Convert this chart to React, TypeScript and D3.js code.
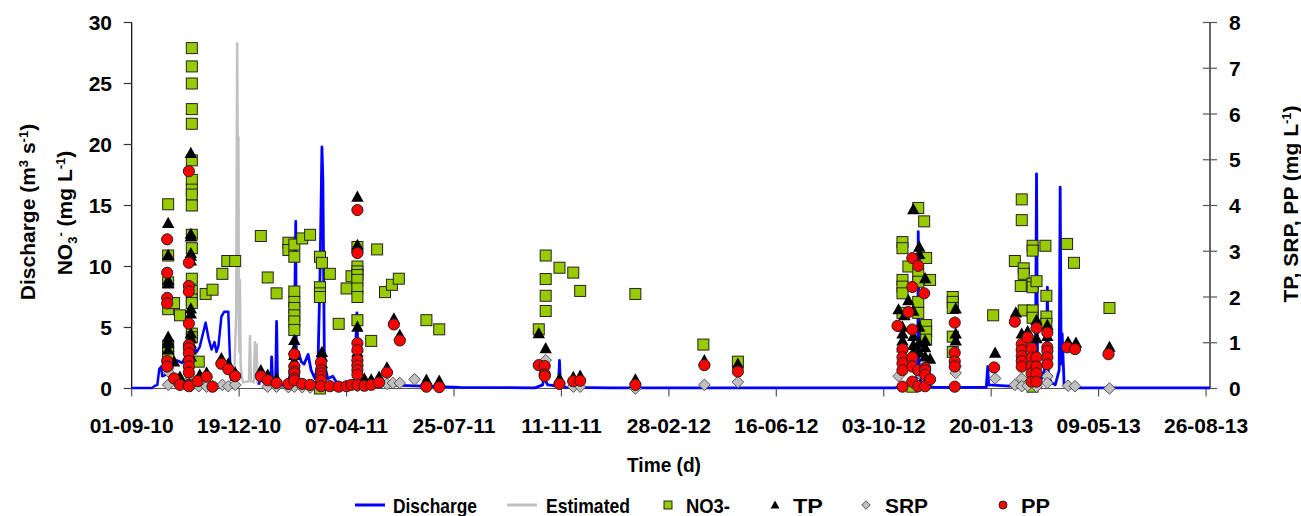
import React from "react";
import * as d3 from "d3";

// ---------- DATA ----------
// Discharge (m3 s-1), measured
const dischargeSeries: [string, number][] = [
  ["2010-09-01", 0.05], ["2010-09-22", 0.05], ["2010-09-24", 0.2], ["2010-09-27", 0.3], ["2010-09-29", 1.6],
  ["2010-10-01", 1.8], ["2010-10-02", 1.0], ["2010-10-05", 1.1], ["2010-10-09", 1.8], ["2010-10-14", 2.2],
  ["2010-10-17", 2.3], ["2010-10-22", 2.1], ["2010-10-25", 2.5], ["2010-10-28", 4.5], ["2010-10-31", 5.5],
  ["2010-11-02", 3.5], ["2010-11-06", 3.0], ["2010-11-09", 3.4], ["2010-11-12", 4.4], ["2010-11-15", 5.4],
  ["2010-11-18", 4.1], ["2010-11-21", 3.2], ["2010-11-24", 3.8], ["2010-11-26", 3.0], ["2010-11-28", 3.5],
  ["2010-12-01", 5.9], ["2010-12-04", 6.3], ["2010-12-08", 6.3], ["2010-12-09", 4.0], ["2010-12-10", 1.8],
  ["2010-12-11", 0.6],
];
const dischargeSeries2: [string, number][] = [
  ["2011-01-08", 0.3], ["2011-01-11", 1.5], ["2011-01-12", 0.6], ["2011-01-16", 0.3], ["2011-01-20", 0.3],
  ["2011-01-21", 2.6], ["2011-01-22", 0.5], ["2011-01-25", 0.4], ["2011-01-26", 5.5], ["2011-01-27", 0.3],
  ["2011-02-05", 0.3], ["2011-02-11", 1.5], ["2011-02-13", 4.0], ["2011-02-14T10:00Z", 13.7], ["2011-02-15", 3.0],
  ["2011-02-17", 3.0], ["2011-02-20", 2.2], ["2011-02-23", 2.0], ["2011-02-27", 2.8], ["2011-03-02", 1.5],
  ["2011-03-06", 0.8], ["2011-03-09", 2.0], ["2011-03-11", 9.0], ["2011-03-13", 19.8], ["2011-03-14", 17.0],
  ["2011-03-15T12:00Z", 2.0], ["2011-03-19", 0.8], ["2011-03-24", 1.0], ["2011-03-28", 0.5], ["2011-04-07", 0.3],
  ["2011-04-15", 0.5], ["2011-04-17T12:00Z", 6.2], ["2011-04-19", 1.0], ["2011-04-25", 0.4], ["2011-05-31", 0.25],
  ["2011-07-31", 0.1], ["2011-10-15", 0.05], ["2011-10-23", 0.3], ["2011-10-25", 1.5], ["2011-10-26", 0.6],
  ["2011-10-28", 0.3], ["2011-11-08", 0.2], ["2011-11-09", 2.3], ["2011-11-10", 0.3], ["2011-11-15", 0.1],
  ["2012-01-01", 0.05], ["2012-10-14", 0.05], ["2012-11-04", 0.4], ["2012-11-06T12:00Z", 1.5], ["2012-11-07", 12.85],
  ["2012-11-08", 1.0], ["2012-11-11", 0.3], ["2012-11-23", 0.1], ["2013-01-15", 0.1], ["2013-01-16T12:00Z", 1.8],
  ["2013-01-17T12:00Z", 0.3], ["2013-02-28", 0.1], ["2013-03-06", 3.0], ["2013-03-07", 17.6], ["2013-03-08", 2.0],
  ["2013-03-12", 0.8], ["2013-03-17", 2.0], ["2013-03-18", 8.3], ["2013-03-19", 1.0], ["2013-03-22", 0.5],
  ["2013-03-26", 0.3], ["2013-03-30", 1.5], ["2013-03-31", 16.5], ["2013-04-01", 2.0], ["2013-04-02", 4.5],
  ["2013-04-04", 0.3], ["2013-04-09", 0.05], ["2013-08-30", 0.05],
];
// Estimated discharge (gap filling)
const estimatedSeries: [string, number][] = [
  ["2010-12-11", 0.6], ["2010-12-14", 1.0], ["2010-12-16", 6.0], ["2010-12-17", 28.3], ["2010-12-17T18:00Z", 14.0],
  ["2010-12-18T06:00Z", 20.6], ["2010-12-18T18:00Z", 5.0], ["2010-12-19T06:00Z", 3.0], ["2010-12-19T18:00Z", 8.9],
  ["2010-12-20T12:00Z", 2.0], ["2010-12-21T12:00Z", 1.0], ["2010-12-23", 0.5], ["2010-12-29", 0.6], ["2010-12-30", 4.3],
  ["2010-12-31", 0.6], ["2011-01-03", 0.5], ["2011-01-04", 3.8], ["2011-01-05", 0.8], ["2011-01-05T18:00Z", 3.6],
  ["2011-01-06T12:00Z", 0.5], ["2011-01-08", 0.3],
];

// NO3- (mg L-1), left axis
const no3Samples: [string, number[]][] = [
  ["2010-10-08", [15.1, 10.9, 8.7, 6.5, 3.5, 3.0, 2.6]], ["2010-10-14", [7.0]], ["2010-10-20", [6.0]],
  ["2010-11-01", [27.9, 26.4, 25.0, 22.9, 21.7, 18.7, 17.1, 16.3, 15.9, 15.0, 12.6, 11.5, 9.0, 8.0, 7.3, 7.0, 4.5, 4.2]],
  ["2010-11-08", [2.2]], ["2010-11-15", [7.75]], ["2010-11-22", [8.1]], ["2010-12-02", [9.4]], ["2010-12-07", [10.45]],
  ["2010-12-15", [10.45]], ["2011-01-10", [12.5]], ["2011-01-17", [9.1]], ["2011-01-26", [7.8]],
  ["2011-02-07", [11.95, 11.35]], ["2011-02-13", [11.8, 10.8, 7.95, 7.1, 6.6, 6.0, 5.5, 4.8]],
  ["2011-02-21", [12.3]], ["2011-03-01", [12.6]], ["2011-03-11", [10.8, 8.3, 7.8, 7.5, 0.0]], ["2011-03-13", [10.3]],
  ["2011-03-21", [9.4]], ["2011-03-30", [5.3]], ["2011-04-07", [8.2]], ["2011-04-12", [9.2]],
  ["2011-04-18", [11.6, 10.0, 9.6, 9.3, 8.9, 8.2, 7.5, 5.6]], ["2011-05-02", [3.9]], ["2011-05-08", [11.4]],
  ["2011-05-16", [7.9]], ["2011-05-23", [8.5]], ["2011-05-30", [9.0]], ["2011-06-27", [5.6]], ["2011-07-10", [4.85]],
  ["2011-10-19", [4.85]], ["2011-10-26", [10.9, 8.97, 7.6, 6.35]], ["2011-11-09", [9.9]], ["2011-11-23", [9.5]],
  ["2011-11-30", [8.0]], ["2012-01-25", [7.75]], ["2012-04-03", [3.6]], ["2012-05-08", [2.2]],
  ["2012-10-22", [12.0, 11.5, 8.9, 8.35, 7.8, 6.2]], ["2012-10-28", [10.0]], ["2012-11-01", [0.15]],
  ["2012-11-07", [14.8, 9.4, 8.75, 7.1, 6.2]], ["2012-11-13", [13.7]], ["2012-11-15", [10.7, 5.2, 4.65, 4.0]],
  ["2012-11-19", [8.9]], ["2012-12-12", [7.5, 7.1, 6.6, 4.25, 3.0]], ["2013-01-22", [6.0]],
  ["2013-02-13", [10.45]], ["2013-02-19", [8.4]], ["2013-02-20", [15.5, 13.8]], ["2013-02-22", [9.85, 9.4, 6.4]],
  ["2013-03-03", [11.7, 11.3, 8.6, 8.3, 6.4, 5.8, 0.15]], ["2013-03-07", [8.8]], ["2013-03-16", [11.7]],
  ["2013-03-17", [7.6, 5.9, 5.3]], ["2013-04-07", [11.85]], ["2013-04-14", [10.3]], ["2013-05-20", [6.6]],
];

// TP (mg L-1), right axis
const tpSamples: [string, number[]][] = [
  ["2010-10-08", [3.62, 2.92, 2.37, 2.3, 1.13, 1.05, 0.99, 0.85, 0.59]], ["2010-10-14", [0.59]], ["2010-10-20", [0.26]],
  ["2010-10-31", [5.15, 3.38, 3.32, 2.96, 2.9, 2.8, 1.75, 1.64, 1.21, 1.1, 0.99, 0.85, 0.7]],
  ["2010-11-09", [0.3]], ["2010-11-16", [0.35]], ["2010-12-01", [0.66]], ["2010-12-08", [0.55]], ["2010-12-15", [0.35]],
  ["2011-01-10", [0.4]], ["2011-01-17", [0.3]], ["2011-01-26", [0.22]], ["2011-02-13", [1.06, 0.85, 0.73, 0.6, 0.5]],
  ["2011-03-13", [0.8, 0.7, 0.55]], ["2011-04-18", [4.19, 3.14, 1.35, 0.9, 0.8, 0.7, 0.62]],
  ["2011-04-25", [0.22]], ["2011-05-02", [0.2]], ["2011-05-10", [0.26]], ["2011-05-18", [0.46]], ["2011-05-25", [1.53]],
  ["2011-05-31", [1.17]], ["2011-06-27", [0.19]], ["2011-07-10", [0.17]], ["2011-10-19", [1.21]], ["2011-10-26", [0.88]],
  ["2011-11-09", [0.22]], ["2011-11-23", [0.25]], ["2011-11-30", [0.28]], ["2012-01-25", [0.2]], ["2012-04-04", [0.62]],
  ["2012-05-08", [0.54]], ["2012-10-18", [1.73]], ["2012-10-22", [1.35, 1.2, 1.05, 0.9]], ["2012-10-24", [1.6]],
  ["2012-10-28", [1.93]], ["2012-11-02", [3.92, 1.7, 1.15, 0.95, 0.8]], ["2012-11-08", [3.1, 2.94, 1.35, 1.0, 0.8]],
  ["2012-11-14", [2.41, 1.05, 0.9, 0.7]], ["2012-11-19", [0.65]], ["2012-12-15", [1.75, 1.2, 1.05]],
  ["2013-01-24", [0.78]], ["2013-02-14", [1.66]], ["2013-02-20", [1.2, 0.95]], ["2013-02-26", [1.25]],
  ["2013-03-07", [1.5, 1.1]], ["2013-03-18", [1.39, 1.15]], ["2013-04-08", [1.02]], ["2013-04-16", [1.0]],
  ["2013-05-20", [0.91]],
];

// SRP (mg L-1), right axis
const srpSamples: [string, number[]][] = [
  ["2010-10-08", [0.45, 0.37, 0.08]], ["2010-10-31", [0.26, 0.2, 0.12, 0.05]], ["2010-11-08", [0.05]],
  ["2010-11-16", [0.04]], ["2010-11-22", [0.05]], ["2010-12-02", [0.08]], ["2010-12-08", [0.05]], ["2010-12-15", [0.08]],
  ["2011-01-17", [0.04]], ["2011-01-26", [0.04]], ["2011-02-07", [0.03]], ["2011-02-13", [0.04]], ["2011-02-21", [0.03]],
  ["2011-03-01", [0.02]], ["2011-03-13", [0.05]], ["2011-04-18", [0.1, 0.05]], ["2011-05-18", [0.1]],
  ["2011-05-24", [0.12]], ["2011-05-31", [0.12]], ["2011-06-15", [0.2]], ["2011-10-26", [0.62]], ["2011-11-23", [0.04]],
  ["2011-11-30", [0.04]], ["2012-01-25", [0.0]], ["2012-04-04", [0.08]], ["2012-05-08", [0.14]], ["2012-10-18", [0.27]],
  ["2012-11-02", [0.1]], ["2012-11-08", [0.33]], ["2012-12-15", [0.49, 0.34]], ["2013-01-24", [0.22]],
  ["2013-02-13", [0.08]], ["2013-02-20", [0.22, 0.05]], ["2013-02-26", [0.06]], ["2013-03-07", [0.04]],
  ["2013-03-18", [0.27, 0.12]], ["2013-04-08", [0.06]], ["2013-04-15", [0.05]], ["2013-05-20", [0.0]],
];

// PP (mg L-1), right axis
const ppSamples: [string, number[]][] = [
  ["2010-10-07", [3.26, 2.53, 1.98, 1.86, 0.6, 0.48]], ["2010-10-14", [0.22]], ["2010-10-20", [0.08]],
  ["2010-10-29", [4.75, 2.75, 2.24, 2.12, 1.42, 0.95, 0.88, 0.77, 0.6, 0.48, 0.35, 0.08, 0.05]],
  ["2010-11-07", [0.16]], ["2010-11-16", [0.26]], ["2010-11-22", [0.04]], ["2010-12-01", [0.54]], ["2010-12-08", [0.42]],
  ["2010-12-15", [0.27]], ["2011-01-10", [0.27]], ["2011-01-17", [0.18]], ["2011-01-26", [0.12]], ["2011-02-07", [0.1]],
  ["2011-02-13", [0.75, 0.48, 0.37, 0.33, 0.22, 0.18]], ["2011-02-21", [0.1]], ["2011-03-01", [0.08]],
  ["2011-03-12", [0.57, 0.4, 0.33, 0.26, 0.18, 0.05]], ["2011-03-21", [0.05]], ["2011-03-30", [0.04]],
  ["2011-04-07", [0.05]], ["2011-04-12", [0.08]], ["2011-04-18", [3.9, 2.96, 0.99, 0.84, 0.62, 0.5, 0.4, 0.3, 0.08]],
  ["2011-04-25", [0.06]], ["2011-05-02", [0.08]], ["2011-05-10", [0.13]], ["2011-05-18", [0.35]], ["2011-05-25", [1.4]],
  ["2011-05-31", [1.05]], ["2011-06-27", [0.04]], ["2011-07-10", [0.03]], ["2011-10-19", [0.51]],
  ["2011-10-25", [0.49, 0.31, 0.27]], ["2011-11-09", [0.1]], ["2011-11-23", [0.16]], ["2011-11-30", [0.17]],
  ["2012-01-25", [0.08]], ["2012-04-04", [0.51]], ["2012-05-08", [0.37]], ["2012-10-17", [1.37]],
  ["2012-10-22", [0.86, 0.68, 0.55, 0.4, 0.04]], ["2012-10-28", [1.67]], ["2012-11-01", [2.85, 2.22, 1.29, 0.68, 0.48, 0.15]],
  ["2012-11-07", [2.68, 0.4, 0.05]], ["2012-11-13", [2.08]], ["2012-11-14", [0.45, 0.4, 0.3, 0.05]], ["2012-11-19", [0.2]],
  ["2012-12-14", [1.44, 0.78, 0.59, 0.48, 0.04]], ["2013-01-23", [0.46]], ["2013-02-13", [1.46]],
  ["2013-02-20", [0.97, 0.84, 0.71, 0.6, 0.48]], ["2013-02-26", [1.12]], ["2013-03-02", [0.88, 0.68, 0.48, 0.33, 0.15]],
  ["2013-03-07", [1.32, 0.68, 0.48, 0.33, 0.15]], ["2013-03-18", [1.22, 0.9, 0.82, 0.68, 0.53]], ["2013-04-07", [0.9]],
  ["2013-04-15", [0.86]], ["2013-05-19", [0.75]],
];

const xTickDates = ["2010-09-01", "2010-12-19", "2011-04-07", "2011-07-25", "2011-11-11", "2012-02-28",
  "2012-06-16", "2012-10-03", "2013-01-20", "2013-05-09", "2013-08-26"];
const leftTicks = [0, 5, 10, 15, 20, 25, 30];
const rightTicks = [0, 1, 2, 3, 4, 5, 6, 7, 8];
const xDomain = ["2010-09-01", "2013-08-30"];

// ---------- RENDER ----------
const FONT = "'Liberation Sans', Arial, Helvetica, sans-serif";
const parse = (s: string) => (s.length > 10 ? new Date(s) : d3.utcParse("%Y-%m-%d")(s)!) as Date;
const fmt = d3.utcFormat("%d-%m-%y");

const flat = (g: [string, number[]][]) => g.flatMap(([d, vs]) => vs.map((v) => ({ date: parse(d), v })));

const TRI = "M0,-6.2L6.2,5L-6.2,5Z";
const DIA = "M0,-5.8L5.8,0L0,5.8L-5.8,0Z";

export default function App() {
  const L = 131.7, R = 1210, T = 22.5, B = 388.5;
  const x = d3.scaleUtc().domain(xDomain.map(parse)).range([L, R]);
  const yL = d3.scaleLinear().domain([0, 30]).range([B, T]);
  const yR = d3.scaleLinear().domain([0, 8]).range([B, T]);
  const line = d3.line<[string, number]>().x((d) => x(parse(d[0]))).y((d) => yL(d[1]));

  const no3 = flat(no3Samples), tp = flat(tpSamples), srp = flat(srpSamples), pp = flat(ppSamples);
  const fs = 21;
  const bold = { fontFamily: FONT, fontWeight: 700, fontSize: fs, fill: "#000" } as const;
  const fit = (w: number) => ({ textLength: w, lengthAdjust: "spacingAndGlyphs" as const });

  return (
    <svg width={1301} height={516} style={{ position: "absolute", left: 0, top: 0, background: "#fff" }}>
      <rect width={1301} height={516} fill="#fff" />
      {/* axes */}
      <line x1={L} x2={L} y1={T} y2={B} stroke="#000" strokeWidth={1.2} />
      <line x1={R} x2={R} y1={T} y2={B} stroke="#000" strokeWidth={1.2} />
      <line x1={L} x2={R} y1={B} y2={B} stroke="#555" strokeWidth={1.2} />
      {leftTicks.map((t) => (
        <g key={"l" + t}>
          <line x1={L - 8} x2={L} y1={yL(t)} y2={yL(t)} stroke="#333" strokeWidth={1.2} />
          <text x={112} y={yL(t) + 7.5} textAnchor="end" {...bold}>{t}</text>
        </g>
      ))}
      {rightTicks.map((t) => (
        <g key={"r" + t}>
          <line x1={R - 7} x2={R + 7} y1={yR(t)} y2={yR(t)} stroke="#555" strokeWidth={1.2} />
          <text x={1229} y={yR(t) + 7.5} textAnchor="start" {...bold}>{t}</text>
        </g>
      ))}
      {xTickDates.map((s) => {
        const xx = x(parse(s));
        return (
          <g key={s}>
            <line x1={xx} x2={xx} y1={B} y2={B + 8} stroke="#555" strokeWidth={1.2} />
            <text x={xx} y={433} textAnchor="middle" {...bold}>{fmt(parse(s))}</text>
          </g>
        );
      })}

      {/* discharge lines */}
      <path d={line(estimatedSeries) || ""} fill="none" stroke="#c0c0c0" strokeWidth={2.5} strokeLinejoin="round" />
      <path d={line(dischargeSeries) || ""} fill="none" stroke="#0000ff" strokeWidth={2.5} strokeLinejoin="round" />
      <path d={line(dischargeSeries2) || ""} fill="none" stroke="#0000ff" strokeWidth={2.8} strokeLinejoin="round" />

      {/* NO3 squares */}
      {no3.map((p, i) => (
        <rect key={"n" + i} x={x(p.date) - 5.5} y={yL(p.v) - 5.5} width={11} height={11} fill="#99cc00" stroke="#222" strokeWidth={1} />
      ))}
      {tp.map((p, i) => (
        <path key={"t" + i} d={TRI} transform={`translate(${x(p.date)},${yR(p.v)})`} fill="#000" />
      ))}
      {srp.map((p, i) => (
        <path key={"s" + i} d={DIA} transform={`translate(${x(p.date)},${yR(p.v)})`} fill="#c0c0c0" stroke="#555" strokeWidth={1} />
      ))}
      {pp.map((p, i) => (
        <circle key={"p" + i} cx={x(p.date)} cy={yR(p.v)} r={5.6} fill="#ff0000" stroke="#222" strokeWidth={1} />
      ))}

      {/* axis titles */}
      <text transform="translate(35,212) rotate(-90)" textAnchor="middle" {...bold}>
        Discharge (m<tspan dy={-7} fontSize={13}>3</tspan><tspan dy={7}> s</tspan><tspan dy={-7} fontSize={13}>-1</tspan><tspan dy={7}>)</tspan>
      </text>
      <text transform="translate(72,213) rotate(-90)" textAnchor="middle" {...bold}>
        NO<tspan dy={5} fontSize={13}>3</tspan><tspan dy={-12} fontSize={13}>-</tspan><tspan dy={7}> (mg L</tspan><tspan dy={-7} fontSize={13}>-1</tspan><tspan dy={7}>)</tspan>
      </text>
      <text transform="translate(1298,204) rotate(-90)" textAnchor="middle" {...bold}>
        TP, SRP, PP (mg L<tspan dy={-7} fontSize={13}>-1</tspan><tspan dy={7}>)</tspan>
      </text>
      <text x={627} y={472} {...bold} {...fit(74)}>Time (d)</text>

      {/* legend */}
      <g>
        <line x1={355} x2={385} y1={505} y2={505} stroke="#0000ff" strokeWidth={3} />
        <text x={393} y={513} {...bold} {...fit(84)}>Discharge</text>
        <line x1={507} x2={537} y1={505} y2={505} stroke="#c0c0c0" strokeWidth={3} />
        <text x={546} y={513} {...bold} {...fit(84)}>Estimated</text>
        <rect x={664} y={501} width={8} height={8} fill="#99cc00" stroke="#222" strokeWidth={1} />
        <text x={686} y={513} {...bold} {...fit(44)}>NO3-</text>
        <path d="M0,-4.5L4.5,3.5L-4.5,3.5Z" transform="translate(775,505)" fill="#000" />
        <text x={793} y={513} {...bold} {...fit(30)}>TP</text>
        <path d="M0,-4.2L4.2,0L0,4.2L-4.2,0Z" transform="translate(866,505)" fill="#c0c0c0" stroke="#555" strokeWidth={1} />
        <text x={885} y={513} {...bold} {...fit(43)}>SRP</text>
        <circle cx={1003} cy={505} r={4} fill="#ff0000" stroke="#222" strokeWidth={1} />
        <text x={1021} y={513} {...bold} {...fit(29)}>PP</text>
      </g>
    </svg>
  );
}
